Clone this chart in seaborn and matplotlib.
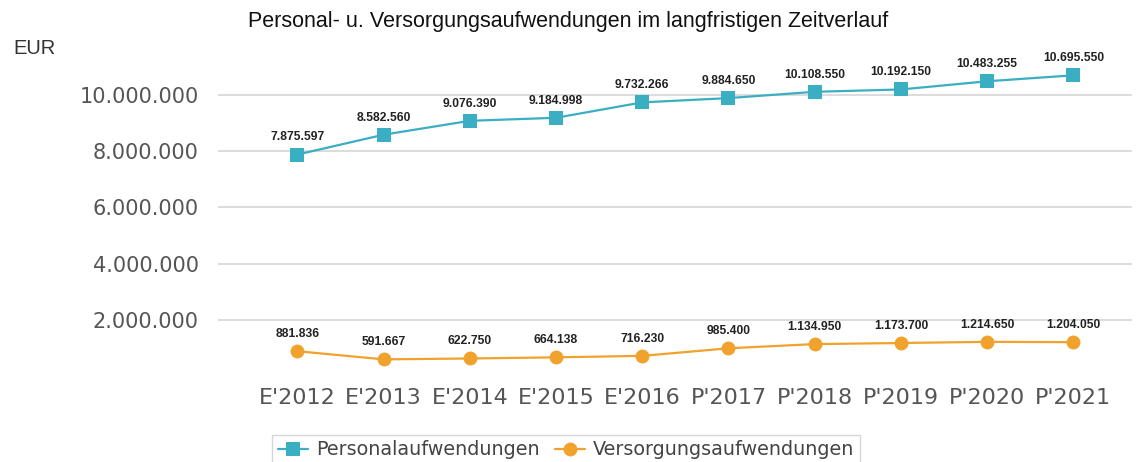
import pandas as pd
import matplotlib
matplotlib.use("Agg")
import matplotlib.pyplot as plt
import seaborn as sns

years = ["E'2012", "E'2013", "E'2014", "E'2015", "E'2016",
         "P'2017", "P'2018", "P'2019", "P'2020", "P'2021"]
personal = [7875597, 8582560, 9076390, 9184998, 9732266,
            9884650, 10108550, 10192150, 10483255, 10695550]
versorgung = [881836, 591667, 622750, 664138, 716230,
              985400, 1134950, 1173700, 1214650, 1204050]

TEAL = "#3aaec3"
ORANGE = "#f0a22c"

sns.set_theme(style="white")
plt.rcParams["font.family"] = ["Liberation Sans", "DejaVu Sans"]

df = pd.DataFrame({
    "Jahr": years * 2,
    "EUR": personal + versorgung,
    "Reihe": ["Personalaufwendungen"] * len(years) + ["Versorgungsaufwendungen"] * len(years),
})

fig = plt.figure(figsize=(11.43, 4.62), dpi=100)
ax = fig.add_axes([218 / 1143, 86 / 462, (1132 - 218) / 1143, (376 - 60) / 462])

sns.lineplot(data=df, x="Jahr", y="EUR", hue="Reihe", style="Reihe",
             palette={"Personalaufwendungen": TEAL, "Versorgungsaufwendungen": ORANGE},
             markers={"Personalaufwendungen": "s", "Versorgungsaufwendungen": "o"},
             dashes=False, markersize=10, markeredgewidth=0, linewidth=1.6,
             sort=False, ax=ax)

def fmt(v):
    return f"{v:,}".replace(",", ".")

for i, (p, v) in enumerate(zip(personal, versorgung)):
    ax.annotate(fmt(p), (i, p), xytext=(0, 8), textcoords="offset points",
                ha="center", va="bottom", fontsize=8.7, fontweight="bold", color="#222222")
    ax.annotate(fmt(v), (i, v), xytext=(0, 8), textcoords="offset points",
                ha="center", va="bottom", fontsize=8.7, fontweight="bold", color="#222222")

ax.set_xlim(-0.92, 9.68)
ax.set_ylim(0, 11240000)
ax.set_yticks([2000000, 4000000, 6000000, 8000000, 10000000])
ax.set_yticklabels([fmt(t) for t in [2000000, 4000000, 6000000, 8000000, 10000000]])
ax.grid(axis="y", color="#d9d9d9", linewidth=1.3)
ax.set_axisbelow(True)
for sp in ax.spines.values():
    sp.set_visible(False)
ax.tick_params(axis="both", length=0, colors="#555555", labelsize=15, pad=9)
ax.tick_params(axis="x", labelsize=16)
ax.tick_params(axis="y", pad=14)
for lbl in ax.get_xticklabels() + ax.get_yticklabels():
    lbl.set_family(["DejaVu Sans"])
ax.set_xlabel("")
ax.set_ylabel("")

fig.text(568 / 1143, 1 - 22 / 462, "Personal- u. Versorgungsaufwendungen im langfristigen Zeitverlauf",
         ha="center", va="center", fontsize=15.5, color="#111111")
fig.text(13 / 1143, 1 - 48 / 462, "EUR", ha="left", va="center", fontsize=14.5, color="#333333")

ax.get_legend().remove()
handles, labels = ax.get_legend_handles_labels()
leg = fig.legend(handles, labels, loc="upper center", bbox_to_anchor=(566 / 1143, 1 - 425 / 462),
                 ncol=2, frameon=True, fancybox=False, fontsize=13.8, handlelength=1.6,
                 handletextpad=0.4, columnspacing=0.8, borderpad=0.3)
leg.get_frame().set_edgecolor("#cccccc")
leg.get_frame().set_linewidth(1.0)
for t in leg.get_texts():
    t.set_color("#444444")
    t.set_family(["DejaVu Sans"])

fig.savefig("out.png", dpi=100, facecolor="white")
